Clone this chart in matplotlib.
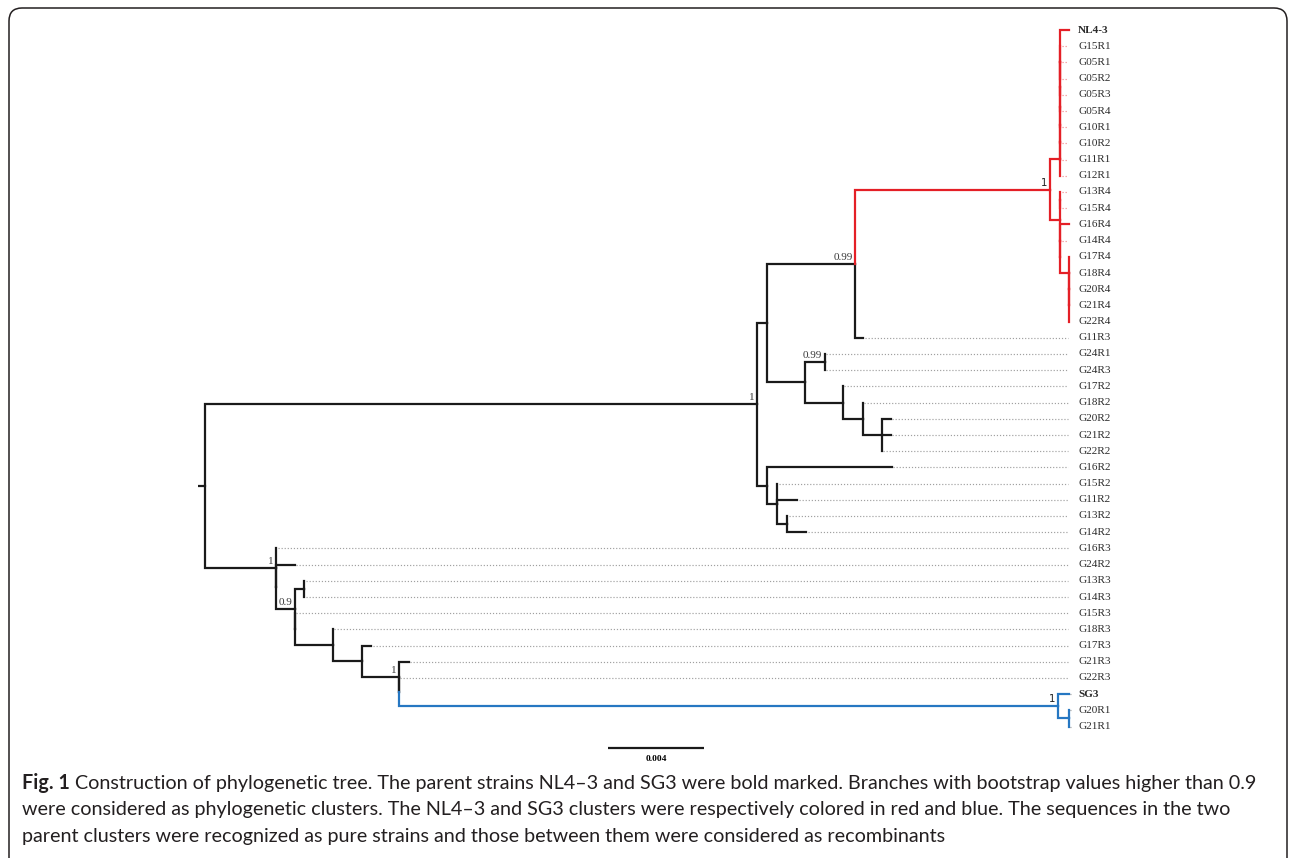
import matplotlib.pyplot as plt
from matplotlib.patches import FancyBboxPatch
from matplotlib import font_manager

# tips, top to bottom, with the node each hangs from and its branch length
tip_names = ['NL4-3', 'G15R1', 'G05R1', 'G05R2', 'G05R3', 'G05R4', 'G10R1', 'G10R2',
             'G11R1', 'G12R1', 'G13R4', 'G15R4', 'G16R4', 'G14R4', 'G17R4', 'G18R4',
             'G20R4', 'G21R4', 'G22R4', 'G11R3', 'G24R1', 'G24R3', 'G17R2', 'G18R2',
             'G20R2', 'G21R2', 'G22R2', 'G16R2', 'G15R2', 'G11R2', 'G13R2', 'G14R2',
             'G16R3', 'G24R2', 'G13R3', 'G14R3', 'G15R3', 'G18R3', 'G17R3', 'G21R3',
             'G22R3', 'SG3', 'G20R1', 'G21R1']
tip_parents = ['r1e', 'r1e', 'r1e', 'r1e', 'r1e', 'r1d', 'r1c', 'r1b',
               'r1a', 'r1', 'r2a', 'r2a', 'r2b', 'r2c', 'r3', 'r3a',
               'r3b', 'r3b', 'r3b', 'c', 'e', 'e', 'f', 'g',
               'h', 'h', 'h', 'i', 'j', 'j', 'k', 'k',
               'l', 'l2', 'n', 'n', 'm2', 'o', 'p', 'q',
               'q2', 's', 's1', 's1']
tip_lengths = [0.00038, 0, 0, 0, 0, 0, 0, 0,
               0, 0, 0, 0, 0.00038, 0, 0, 0,
               0, 0, 0, 0.00033, 0, 0, 0, 0,
               0.00038, 0.00038, 0, 0.0052, 0, 0.00083, 0, 0.00079,
               0, 0.00079, 0, 0, 0, 0, 0.00038, 0.00042,
               0, 0.00046, 0, 0]

# internal nodes (substitutions/site)
node_names = ['root', 'a', 'b', 'c', 'r', 'r1', 'r1a', 'r1b', 'r1c', 'r1d', 'r1e',
              'r2', 'r2a', 'r2b', 'r2c', 'r3', 'r3a', 'r3b',
              'd', 'e', 'f', 'g', 'h', 'i', 'j', 'k',
              'l', 'l2', 'm', 'n', 'm2', 'o', 'p', 'q', 'q2', 's', 's1']
node_parents = [None, 'root', 'a', 'b', 'c', 'r', 'r1', 'r1a', 'r1b', 'r1c', 'r1d',
                'r', 'r2', 'r2', 'r2b', 'r2c', 'r3', 'r3a',
                'b', 'd', 'd', 'f', 'g', 'a', 'i', 'j',
                'root', 'l', 'l2', 'm', 'm', 'm2', 'o', 'p', 'q', 'q2', 's']
node_lengths = [0.0003, 0.0230, 0.00042, 0.00367, 0.00812, 0.00042, 0, 0, 0, 0, 0,
                0.00042, 0, 0, 0, 0.00038, 0, 0,
                0.00158, 0.00083, 0.00158, 0.00083, 0.00079, 0.00042, 0.00042, 0.00042,
                0.00296, 0, 0.00079, 0.00038, 0, 0.00158, 0.00121, 0.00154, 0, 0.02746, 0.00046]

# posterior support shown on nodes
support_nodes = ['a', 'c', 'r', 'e', 'l', 'm', 'q', 's']
support_values = ['1', '0.99', '1', '0.99', '1', '0.9', '1', '1']

parents_strain = ['NL4-3', 'SG3']
clade_colors = {'r': '#e41f26', 's': '#2677c2'}
dot_colors = {'r': '#f08c90', None: '#a0a0a0'}

caption = ["Construction of phylogenetic tree. The parent strains NL4\u20133 and SG3 were bold marked. "
           "Branches with bootstrap values higher than 0.9",
           "were considered as phylogenetic clusters. The NL4\u20133 and SG3 clusters were respectively "
           "colored in red and blue. The sequences in the two",
           "parent clusters were recognized as pure strains and those between them were considered as recombinants"]

# ---- tree layout ----
parent = dict(zip(tip_names, tip_parents))
parent.update(zip(node_names, node_parents))
length = dict(zip(tip_names, tip_lengths))
length.update(zip(node_names, node_lengths))

children = {n: [] for n in node_names}
for v, p in parent.items():
    if p is not None:
        children[p].append(v)

y = {t: i for i, t in enumerate(tip_names)}


def first_tip(v):
    if v in y:
        return y[v]
    return min(first_tip(c) for c in children[v])


def place(v):
    if v in y:
        return y[v]
    kids = sorted(children[v], key=first_tip)
    children[v] = kids
    ys = [place(c) for c in kids]
    y[v] = (ys[0] + ys[-1]) / 2
    return y[v]


place('root')

x = {}


def depth(v):
    if v not in x:
        p = parent[v]
        x[v] = 0.0 if p is None else depth(p) + length[v]
    return x[v]


for v in parent:
    depth(v)


def clade_of(v):
    while v is not None:
        if v in clade_colors:
            return v
        v = parent[v]
    return None


# ---- figure ----
PX = 24000.0          # pixels per substitution/site
fig = plt.figure(figsize=(12.9, 8.58), dpi=100)
ax = fig.add_axes([0, 0, 1, 1])
ax.set_xlim(-205 / PX, (1290 - 205) / PX)
ax.set_ylim((858 - 30) / 16.2, -30 / 16.2)
ax.axis('off')

for v, p in parent.items():
    if p is None:
        # root stub
        ax.plot([-length[v], 0], [y[v], y[v]], color='#1a1a1a', lw=1.6,
                solid_capstyle='butt')
        continue
    cl = clade_of(v)
    col = clade_colors.get(cl, '#1a1a1a')
    ax.plot([x[p], x[p], x[v]], [y[p], y[v], y[v]], color=col, lw=1.6,
            solid_joinstyle='miter', solid_capstyle='projecting',
            zorder=3 if cl else 2)

x_max = max(x[t] for t in tip_names)
for t in tip_names:
    cl = clade_of(t)
    if x[t] < x_max - 1e-6:
        ax.plot([x[t] + 1.5 / PX, x_max - 1.0 / PX], [y[t], y[t]],
                color=dot_colors.get(cl, dot_colors[None]), lw=0.85,
                linestyle=(0, (1, 1.6)), zorder=1)
    ax.text(x_max + 9 / PX, y[t], t, ha='left', va='center', fontsize=8.1,
            family='Liberation Serif', color='#2b2b2b',
            fontweight='bold' if t in parents_strain else 'normal')

for n, s in zip(support_nodes, support_values):
    sans = n in clade_colors
    ax.annotate(s, (x[n], y[n]), xytext=(-2, 1.5), textcoords='offset points',
                ha='right', va='bottom', fontsize=7.4 if sans else 8.0,
                family='DejaVu Sans' if sans else 'Liberation Serif',
                color='#222222' if sans else '#3a3a3a')

# scale bar
bar_x = (608 - 205) / PX
bar_y = (748 - 30) / 16.2
ax.plot([bar_x, bar_x + 0.004], [bar_y, bar_y], color='#1a1a1a', lw=1.6,
        solid_capstyle='butt')
ax.text(bar_x + 0.002, bar_y + 0.45, '0.004', ha='center', va='top', fontsize=6.8,
        family='Liberation Serif', fontweight='bold')

# frame
fig.patches.append(FancyBboxPatch((0.09, -0.3), 12.78, 8.8, boxstyle='round,pad=0,rounding_size=0.13',
                                  transform=fig.dpi_scale_trans, fill=False,
                                  edgecolor='#231f20', lw=1.1))

# caption
avail = {f.name for f in font_manager.fontManager.ttflist}
cap_font = 'Lato' if 'Lato' in avail else 'DejaVu Sans'
cap_size = 14.2
renderer = fig.canvas.get_renderer()
lab = fig.text(22 / 1290, 1 - 789 / 858, 'Fig. 1', fontsize=cap_size, family=cap_font,
               fontweight='bold', color='#231f20', va='baseline')
w = lab.get_window_extent(renderer).width
fig.text((22 + w + 5) / 1290, 1 - 789 / 858, caption[0], fontsize=cap_size, family=cap_font,
         color='#231f20', va='baseline')
for k, line in enumerate(caption[1:]):
    fig.text(22 / 1290, 1 - (789 + 26.5 * (k + 1)) / 858, line, fontsize=cap_size,
             family=cap_font, color='#231f20', va='baseline')

fig.savefig('out.png', dpi=100)
